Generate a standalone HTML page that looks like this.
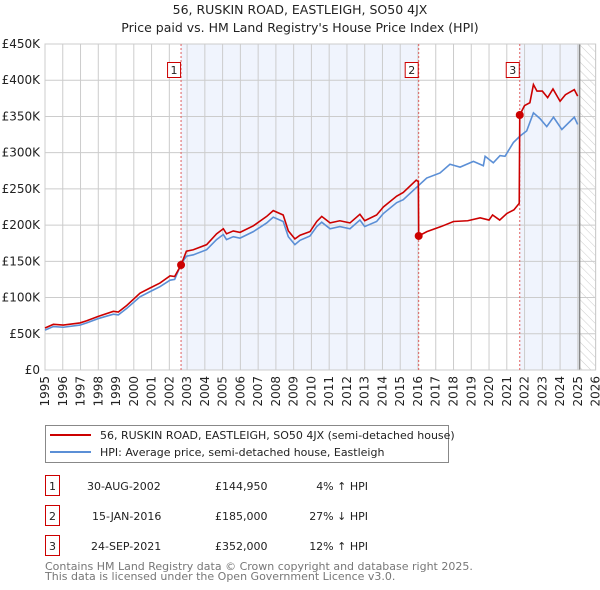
<!DOCTYPE html>
<html><head><meta charset="utf-8"><style>
body{margin:0;background:#fff}
svg{font-family:"DejaVu Sans","Liberation Sans",sans-serif;display:block}
</style></head><body>
<svg width="600" height="590" viewBox="0 0 600 590">
<defs><pattern id="hatch" width="6" height="6" patternUnits="userSpaceOnUse" patternTransform="rotate(-45)"><line x1="0" y1="0" x2="0" y2="6" stroke="#ccc" stroke-width="1"/></pattern></defs>
<text x="300" y="14" text-anchor="middle" font-size="12.5" fill="#222">56, RUSKIN ROAD, EASTLEIGH, SO50 4JX</text>
<text x="300" y="32" text-anchor="middle" font-size="12.5" fill="#222">Price paid vs. HM Land Registry's House Price Index (HPI)</text>
<g id="plot"></g>
<g>
<rect x="45.5" y="425.5" width="403" height="37" fill="#fff" stroke="#888"/>
<line x1="50" y1="435" x2="91" y2="435" stroke="#cc0000" stroke-width="2"/>
<text x="100" y="439" font-size="11" fill="#222">56, RUSKIN ROAD, EASTLEIGH, SO50 4JX (semi-detached house)</text>
<line x1="50" y1="452" x2="91" y2="452" stroke="#5b8fd6" stroke-width="2"/>
<text x="100" y="456" font-size="11" fill="#222">HPI: Average price, semi-detached house, Eastleigh</text>
</g>
<g font-size="11" fill="#222">
<rect x="45.5" y="475.5" width="14" height="20" fill="#fff" stroke="#c00"/><text x="52.5" y="490" text-anchor="middle">1</text>
<text x="87" y="490">30-AUG-2002</text><text x="215" y="490">£144,950</text><text x="368" y="490" text-anchor="end">4% ↑ HPI</text>
<rect x="45.5" y="505.5" width="14" height="20" fill="#fff" stroke="#c00"/><text x="52.5" y="520" text-anchor="middle">2</text>
<text x="92" y="520">15-JAN-2016</text><text x="215" y="520">£185,000</text><text x="368" y="520" text-anchor="end">27% ↓ HPI</text>
<rect x="45.5" y="535.5" width="14" height="20" fill="#fff" stroke="#c00"/><text x="52.5" y="550" text-anchor="middle">3</text>
<text x="91" y="550">24-SEP-2021</text><text x="215" y="550">£352,000</text><text x="368" y="550" text-anchor="end">12% ↑ HPI</text>
</g>
<text x="45" y="570" font-size="11" fill="#777">Contains HM Land Registry data © Crown copyright and database right 2025.</text>
<text x="45" y="580" font-size="11" fill="#777">This data is licensed under the Open Government Licence v3.0.</text>
</svg>
<script>
const yTicks=[0,50,100,150,200,250,300,350,400,450];
const yTickLabels=["£0","£50K","£100K","£150K","£200K","£250K","£300K","£350K","£400K","£450K"];
const years=[1995,1996,1997,1998,1999,2000,2001,2002,2003,2004,2005,2006,2007,2008,2009,2010,2011,2012,2013,2014,2015,2016,2017,2018,2019,2020,2021,2022,2023,2024,2025,2026];
const saleYears=[2002.66,2016.04,2021.73];
const salePrices=[144.95,185,352];
const saleLabels=["1","2","3"];
const hpiYears=[1995,1995.47,1996.03,1996.97,1997.35,1998.0,1998.85,1999.13,1999.6,2000.35,2000.9,2001.47,2002.04,2002.3,2002.68,2002.96,2003.35,2004.1,2004.66,2005.04,2005.22,2005.6,2005.98,2006.73,2007.48,2007.85,2008.41,2008.7,2009.07,2009.36,2009.92,2010.3,2010.58,2011.05,2011.6,2012.17,2012.73,2013.0,2013.67,2014.05,2014.8,2015.17,2015.96,2016.49,2017.24,2017.8,2018.37,2019.12,2019.68,2019.78,2020.24,2020.62,2020.9,2021.37,2021.75,2022.12,2022.5,2022.87,2023.25,2023.63,2024.1,2024.8,2024.99];
const hpiValues=[55,60,59,62,65,71,77,76,85,101,108,115,124,125,147,157,159,166,180,187,180,184,182,191,203,211,205,184,173,179,185,198,204,195,198,195,207,198,205,216,231,235,253,265,272,284,280,288,282,295,286,296,295,314,323,330,355,347,336,349,332,349,339];
const ppYears=[1995,1995.47,1996.03,1996.97,1997.35,1998.0,1998.85,1999.13,1999.6,2000.35,2000.9,2001.47,2002.04,2002.3,2002.66,2002.96,2003.35,2004.1,2004.66,2005.04,2005.22,2005.6,2005.98,2006.73,2007.48,2007.85,2008.41,2008.7,2009.07,2009.36,2009.92,2010.3,2010.58,2011.05,2011.6,2012.17,2012.73,2013.0,2013.67,2014.05,2014.8,2015.17,2015.9,2016.02,2016.04,2016.5,2017.3,2018.0,2018.8,2019.5,2020.0,2020.2,2020.6,2021.0,2021.4,2021.7,2021.73,2022.0,2022.3,2022.5,2022.7,2023.0,2023.3,2023.6,2024.0,2024.3,2024.8,2024.99];
const ppValues=[58,63,62,65,68,74,81,80,89,106,113,120,130,129,144.95,164,166,173,188,195,188,192,190,199,212,220,214,192,181,186,191,205,212,203,206,203,215,206,214,225,240,245,262,260,185,191,198,205,206,210,207,214,207,216,221,230,352,365,369,394,385,385,376,388,371,380,387,378];
const X0=45,X1=595.6,Y0=370,Y1=44;
const x=y=>X0+(y-1995)*(X1-X0)/31;
const y=v=>Y0-v*(Y0-Y1)/450;
const NS="http://www.w3.org/2000/svg";
const g=document.getElementById('plot');
function mk(t,a,p){const e=document.createElementNS(NS,t);for(const k in a)e.setAttribute(k,a[k]);(p||g).appendChild(e);return e;}
let r;
r=mk('rect',{x:x(saleYears[0]),y:Y1,width:x(saleYears[1])-x(saleYears[0]),height:Y0-Y1,fill:'#f0f4fd'});


r=mk('rect',{x:x(saleYears[2]),y:Y1,width:x(2025.1)-x(saleYears[2]),height:Y0-Y1,fill:'#f0f4fd'});


r=mk('rect',{x:x(2025.1),y:Y1,width:X1-x(2025.1),height:Y0-Y1,fill:'url(#hatch)'});


yTicks.forEach((v,i)=>{
 const l=mk('line',{x1:X0,x2:X1,y1:y(v),y2:y(v),stroke:'#ccc'});
 
 
 const t=mk('text',{x:40,y:y(v)+4,'text-anchor':'end','font-size':12,fill:'#222'});
 t.textContent=yTickLabels[i];
 
 
});
years.forEach(yr=>{
 const l=mk('line',{x1:x(yr),x2:x(yr),y1:Y1,y2:Y0,stroke:'#ccc'});
 
 
 const t=mk('text',{x:0,y:0,'text-anchor':'end','font-size':12,fill:'#222',transform:`translate(${x(yr)+4},${Y0+6}) rotate(-90)`});
 t.textContent=yr;
 
 
});
r=mk('line',{x1:x(2025.1),x2:x(2025.1),y1:Y1,y2:Y0,stroke:'#888','stroke-width':1.5});


r=mk('rect',{x:X0,y:Y1,width:X1-X0,height:Y0-Y1,fill:'none',stroke:'#ccc'});


saleYears.forEach((s,i)=>{
 const l=mk('line',{x1:x(s),x2:x(s),y1:Y1,y2:Y0,stroke:'#e06060','stroke-dasharray':'2,2'});
 
 
 const b=mk('rect',{x:x(s)-13.5,y:62.5,width:13,height:15,fill:'#fff',stroke:'#c00'});
 
 
 const t=mk('text',{x:x(s)-7,y:74,'text-anchor':'middle','font-size':11,fill:'#222'});
 t.textContent=saleLabels[i];
 
 
});
const hp=mk('polyline',{points:hpiYears.map((a,i)=>x(a)+','+y(hpiValues[i])).join(' '),fill:'none',stroke:'#5b8fd6','stroke-width':1.6});


const pp=mk('polyline',{points:ppYears.map((a,i)=>x(a)+','+y(ppValues[i])).join(' '),fill:'none',stroke:'#cc0000','stroke-width':1.6});


saleYears.forEach((s,i)=>{
 const c=mk('circle',{cx:x(s),cy:y(salePrices[i]),r:4,fill:'#cc0000'});
 
 
});
</script>
</body></html>
